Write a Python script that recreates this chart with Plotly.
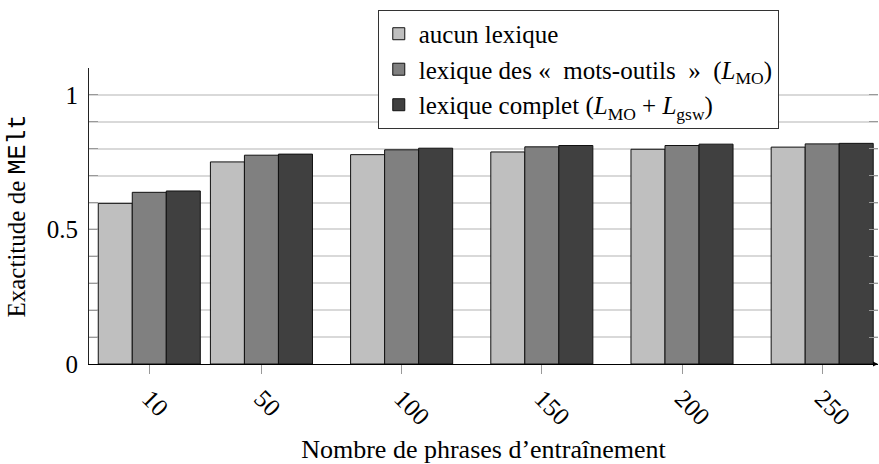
import plotly.graph_objects as go

# Data
phrases = [10, 50, 100, 150, 200, 250]
aucun_lexique = [0.597, 0.751, 0.778, 0.788, 0.798, 0.806]
lexique_mo = [0.638, 0.776, 0.796, 0.807, 0.812, 0.818]
lexique_complet = [0.643, 0.780, 0.802, 0.812, 0.817, 0.820]

series_names = [
    "aucun lexique",
    "lexique des «  mots-outils  »  (<i>L</i><sub>MO</sub>)",
    "lexique complet (<i>L</i><sub>MO</sub> + <i>L</i><sub>gsw</sub>)",
]
series_colors = ["#bfbfbf", "#808080", "#404040"]

y_tickvals = [0, 0.5, 1]
y_ticktext = ["0", "0.5", "1"]
x_ticktext = ["10", "50", "100", "150", "200", "250"]

FONT = "Liberation Serif"

fig = go.Figure()
for name, vals, col, grp in zip(series_names,
                                [aucun_lexique, lexique_mo, lexique_complet],
                                series_colors, ["a", "b", "c"]):
    fig.add_trace(go.Bar(
        x=phrases, y=vals, name=name, legendgroup=grp,
        marker=dict(color=col, line=dict(color="#111111", width=1)),
    ))

# invisible trace for right-side ticks
fig.add_trace(go.Scatter(x=[phrases[0]], y=[0], yaxis="y2", mode="markers",
                         marker=dict(opacity=0), showlegend=False, hoverinfo="skip"))

tick_style = dict(ticks="inside", ticklen=9, tickcolor="#999999")

fig.update_layout(
    width=879, height=464,
    margin=dict(l=89, r=1, t=68, b=100, autoexpand=False),
    paper_bgcolor="white", plot_bgcolor="white",
    barmode="group", bargap=0.09, bargroupgap=0,
    font=dict(family=FONT, size=25, color="black"),
    showlegend=True,
    legend=dict(
        x=0.366, y=1.196, xanchor="left", yanchor="top",
        bgcolor="white", bordercolor="#333333", borderwidth=1,
        font=dict(family=FONT, size=25, color="black"),
        tracegroupgap=0, itemwidth=30,
    ),
    xaxis=dict(
        range=[-11.5, 269.9], automargin=False,
        tickmode="array", tickvals=phrases, ticktext=x_ticktext,
        tickangle=45, ticks="outside", ticklen=9, tickcolor="#999999",
        showgrid=False, zeroline=False,
        showline=True, linecolor="black", linewidth=1,
        tickfont=dict(family=FONT, size=25),
        title=dict(text="Nombre de phrases d’entraînement", standoff=12,
                   font=dict(family=FONT, size=26)),
    ),
    yaxis=dict(
        range=[0, 1.1], automargin=False,
        tickmode="array", tickvals=y_tickvals, ticktext=y_ticktext,
        showgrid=True, gridcolor="#d9d9d9", gridwidth=1.5,
        minor=dict(dtick=0.1, tick0=0, showgrid=True, gridcolor="#d9d9d9",
                   gridwidth=1.5, **tick_style),
        zeroline=False, ticklabelstandoff=5,
        showline=True, linecolor="#222222", linewidth=1,
        tickfont=dict(family=FONT, size=25),
        title=dict(text='Exactitude de <span style="font-family:Liberation Mono">MElt</span>',
                   standoff=14, font=dict(family=FONT, size=25)),
        **tick_style,
    ),
    yaxis2=dict(
        range=[0, 1.1], overlaying="y", side="right", anchor="x", automargin=False,
        tickmode="array", tickvals=y_tickvals, showticklabels=False,
        minor=dict(dtick=0.1, tick0=0, showgrid=False, **tick_style),
        showgrid=False, zeroline=False, showline=False,
        **tick_style,
    ),
    annotations=[dict(
        x=1.002, y=0, xref="paper", yref="y", text="",
        showarrow=True, ax=-8, ay=0, arrowhead=2, arrowsize=1,
        arrowwidth=1, arrowcolor="black",
    )],
)

fig.write_html("out.html", config={"displayModeBar": False},
               post_script="document.body.style.margin='0';")
